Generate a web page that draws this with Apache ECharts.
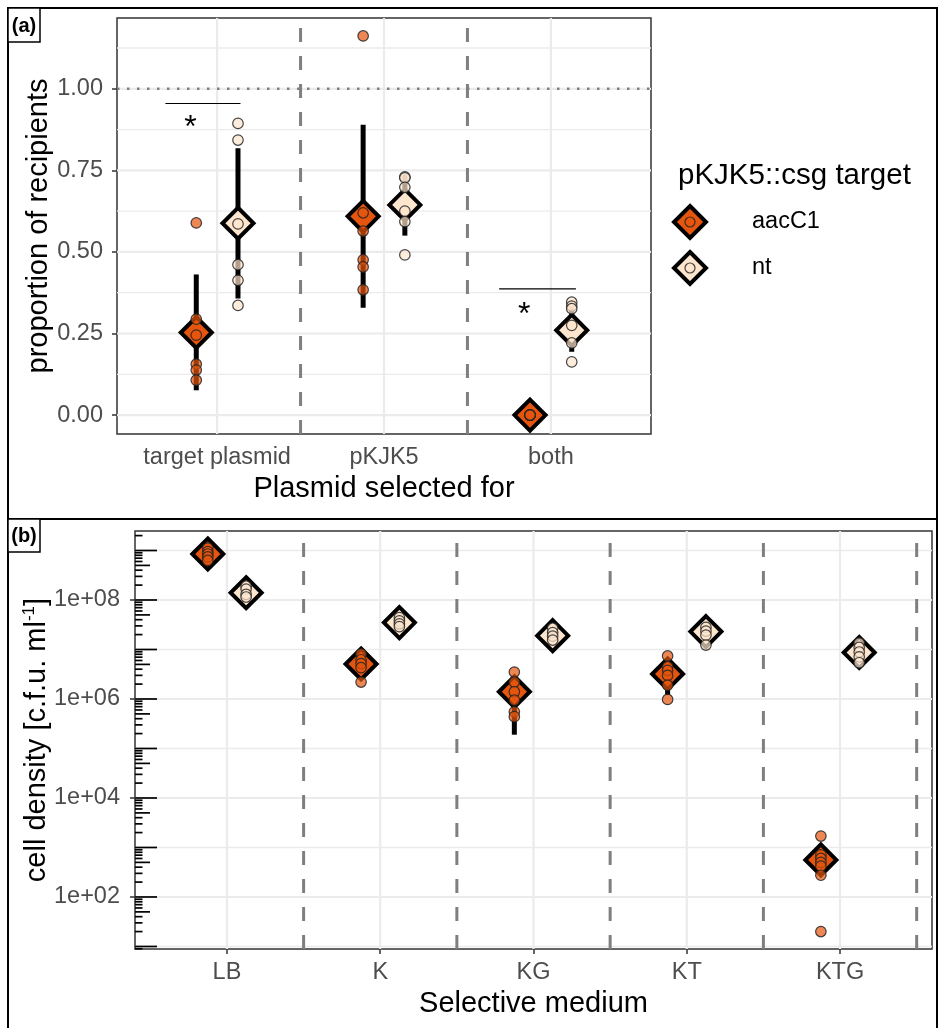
<!DOCTYPE html>
<html>
<head>
<meta charset="utf-8">
<script src="https://cdn.jsdelivr.net/npm/echarts@6/dist/echarts.min.js"></script>
<style>
  html, body { margin: 0; padding: 0; background: #fff; }
  #chart { width: 939px; height: 1028px; }
</style>
</head>
<body>
<div id="chart"></div>
<script>
// ---------- panel (a): proportion of recipients ----------
const catsA = ["target plasmid", "pKJK5", "both"];
const meanA_aac = [0.253, 0.609, 0.0];
const lowA_aac = [0.076, 0.329, 0.0];
const highA_aac = [0.431, 0.890, 0.0];
const meanA_nt = [0.588, 0.644, 0.260];
const lowA_nt = [0.357, 0.550, 0.194];
const highA_nt = [0.818, 0.737, 0.326];
const ptsA_aac = [
  [0.589, 0.294, 0.245, 0.156, 0.138, 0.107],
  [1.162, 0.620, 0.564, 0.476, 0.454, 0.384],
  [0, 0, 0, 0, 0, 0]
];
const ptsA_nt = [
  [0.894, 0.843, 0.586, 0.461, 0.413, 0.336],
  [0.730, 0.727, 0.698, 0.625, 0.593, 0.491],
  [0.346, 0.334, 0.326, 0.275, 0.221, 0.163]
];
const ticksA = [0, 0.25, 0.5, 0.75, 1.0];
const minorA = [0.125, 0.375, 0.625, 0.875, 1.125];
const refLineA = [1.0];
const sepA = [1.5, 2.5];
// significance brackets
const sigFromA = [0.69, 2.69];
const sigToA = [1.14, 3.15];
const sigYA = [0.955, 0.387];
const starXA = [0.84, 2.84];
const starYA = [0.897, 0.324];

// ---------- panel (b): cell density (c.f.u./ml) ----------
const catsB = ["LB", "K", "KG", "KT", "KTG"];
const meanB_aac = [8.5e8, 5.1e6, 1.4e6, 3.2e6, 560];
const lowB_aac = [7.2e8, 3.3e6, 1.9e5, 1.2e6, 360];
const highB_aac = [1.0e9, 7.5e6, 2.6e6, 5.2e6, 770];
const meanB_nt = [1.4e8, 3.5e7, 1.9e7, 2.3e7, 8.7e6];
const lowB_nt = [1.1e8, 2.8e7, 1.5e7, 1.6e7, 7.0e6];
const highB_nt = [1.8e8, 4.3e7, 2.4e7, 2.9e7, 1.05e7];
const ptsB_aac = [
  [1.12e9, 9.5e8, 8.5e8, 7.4e8, 6.3e8],
  [8.1e6, 6.2e6, 5.2e6, 4.3e6, 2.2e6],
  [3.5e6, 2.2e6, 1.4e6, 9.5e5, 5.5e5, 4.4e5],
  [7.4e6, 4.5e6, 3.8e6, 3.0e6, 1.9e6, 9.8e5],
  [1700, 710, 600, 500, 420, 275, 20]
];
const ptsB_nt = [
  [1.9e8, 1.66e8, 1.3e8, 1.15e8],
  [4.4e7, 3.8e7, 3.3e7, 2.9e7],
  [2.7e7, 2.2e7, 1.86e7, 1.55e7],
  [2.8e7, 2.35e7, 1.95e7, 1.23e7],
  [1.35e7, 1.1e7, 8.9e6, 7.1e6, 5.4e6]
];
const ticksB = [2, 4, 6, 8];       // labelled decades (log10)
const minorB = [1, 3, 5, 7, 9];
const sepB = [1.5, 2.5, 3.5, 4.5, 5.5];
const logDecades = [0, 1, 2, 3, 4, 5, 6, 7, 8, 9];
const logMult = [1, 2, 3, 4, 5, 6, 7, 8, 9];

// ---------- styling ----------
const FONT = "Liberation Sans, Arial, sans-serif";
const colAac = "#E6550D", colNt = "#FEE6CE";
const ptAac = "rgba(230,85,13,0.7)", ptNt = "rgba(254,230,206,0.7)";
const ptEdge = "rgba(35,35,35,0.85)";
const gridCol = "#EBEBEB";
const dodge = 0.125;
const lg = Math.log10;
const id = (v) => v;

function hLine(color, width, dash) {
  return function (params, api) {
    const cs = params.coordSys;
    const y = api.coord([1, api.value(1)])[1];
    return {
      type: "line", silent: true,
      shape: { x1: cs.x, y1: y, x2: cs.x + cs.width, y2: y },
      style: { stroke: color, lineWidth: width, lineDash: dash || null, lineCap: "butt" }
    };
  };
}
function vLine(color, width, dash) {
  return function (params, api) {
    const cs = params.coordSys;
    const x = api.coord([api.value(0), 1])[0];
    return {
      type: "line", silent: true,
      shape: { x1: x, y1: cs.y + cs.height, x2: x, y2: cs.y },
      style: { stroke: color, lineWidth: width, lineDash: dash || null, lineCap: "butt" }
    };
  };
}
function errBar(params, api) {
  const p1 = api.coord([api.value(0), api.value(1)]);
  const p2 = api.coord([api.value(0), api.value(2)]);
  return {
    type: "line",
    shape: { x1: p1[0], y1: p1[1], x2: p2[0], y2: p2[1] },
    style: { stroke: "#000", lineWidth: 5, lineCap: "butt" }
  };
}
function bracket(params, api) {
  const p1 = api.coord([api.value(0), api.value(2)]);
  const p2 = api.coord([api.value(1), api.value(2)]);
  return {
    type: "line",
    shape: { x1: p1[0], y1: p1[1], x2: p2[0], y2: p2[1] },
    style: { stroke: "#000", lineWidth: 1.2 }
  };
}
function star(params, api) {
  const p = api.coord([api.value(0), api.value(1)]);
  return {
    type: "text", x: p[0], y: p[1] + 6,
    style: { text: "*", fontSize: 32, fontFamily: FONT, fill: "#000", align: "center", verticalAlign: "middle" }
  };
}
function logTick(params, api) {
  const cs = params.coordSys;
  const y = api.coord([1, api.value(0)])[1];
  if (y < cs.y - 0.5 || y > cs.y + cs.height + 0.5) return null;
  const m = api.value(1);
  const len = m === 1 ? 22 : (m === 5 ? 15 : 7.5);
  return {
    type: "line", silent: true,
    shape: { x1: cs.x, y1: y, x2: cs.x + len, y2: y },
    style: { stroke: "#000", lineWidth: 1.7 }
  };
}

function pts(list, side, tf) {
  const out = [];
  list.forEach((arr, i) => arr.forEach((v) => out.push([i + 1 + side * dodge, tf(v)])));
  return out;
}
function means(arr, side, tf) {
  return arr.map((v, i) => [i + 1 + side * dodge, tf(v)]);
}
function bars(lo, hi, side, tf) {
  return lo.map((v, i) => [i + 1 + side * dodge, tf(v), tf(hi[i])]);
}
function lineData(vals) { return vals.map((v) => [v, v]); }

const logTickData = [];
logDecades.forEach((d) => logMult.forEach((m) => logTickData.push([d + lg(m), m])));

function panelSeries(ax, o) {
  const base = { xAxisIndex: ax, yAxisIndex: ax };
  return [
    Object.assign({ type: "custom", z: 1, renderItem: hLine(gridCol, 1.3), data: lineData(o.minor) }, base),
    Object.assign({ type: "custom", z: 1, renderItem: hLine(gridCol, 2.2), data: lineData(o.major) }, base),
    Object.assign({ type: "custom", z: 1, renderItem: vLine(gridCol, 2.2), data: lineData(o.cats.map((c, i) => i + 1)) }, base),
    Object.assign({ type: "custom", z: 2, renderItem: vLine("#7F7F7F", 3, [14, 14]), data: lineData(o.sep) }, base),
    Object.assign({ type: "custom", z: 3, renderItem: errBar, data: bars(o.loA, o.hiA, -1, o.tf), encode: { x: 0, y: [1, 2] } }, base),
    Object.assign({ type: "custom", z: 3, renderItem: errBar, data: bars(o.loN, o.hiN, 1, o.tf), encode: { x: 0, y: [1, 2] } }, base),
    Object.assign({
      type: "scatter", z: 4, symbol: "diamond", symbolSize: 31, data: means(o.mA, -1, o.tf),
      itemStyle: { color: colAac, borderColor: "#000", borderWidth: 4, opacity: 1 }
    }, base),
    Object.assign({
      type: "scatter", z: 4, symbol: "diamond", symbolSize: 31, data: means(o.mN, 1, o.tf),
      itemStyle: { color: colNt, borderColor: "#000", borderWidth: 4, opacity: 1 }
    }, base),
    Object.assign({
      type: "scatter", z: 5, symbol: "circle", symbolSize: 10.5, data: pts(o.pA, -1, o.tf),
      itemStyle: { color: ptAac, borderColor: ptEdge, borderWidth: 1.2, opacity: 1 }
    }, base),
    Object.assign({
      type: "scatter", z: 5, symbol: "circle", symbolSize: 10.5, data: pts(o.pN, 1, o.tf),
      itemStyle: { color: ptNt, borderColor: ptEdge, borderWidth: 1.2, opacity: 1 }
    }, base)
  ];
}

const series = []
  .concat(panelSeries(0, {
    cats: catsA, major: ticksA, minor: minorA, sep: sepA, tf: id,
    loA: lowA_aac, hiA: highA_aac, loN: lowA_nt, hiN: highA_nt,
    mA: meanA_aac, mN: meanA_nt, pA: ptsA_aac, pN: ptsA_nt
  }))
  .concat([
    { type: "custom", z: 2, xAxisIndex: 0, yAxisIndex: 0, renderItem: hLine("#7F7F7F", 2.5, [2.5, 7.5]), data: refLineA.map((v) => [1, v]) },
    { type: "custom", z: 3, xAxisIndex: 0, yAxisIndex: 0, renderItem: bracket, data: sigFromA.map((v, i) => [v, sigToA[i], sigYA[i]]) },
    { type: "custom", z: 3, xAxisIndex: 0, yAxisIndex: 0, renderItem: star, data: starXA.map((v, i) => [v, starYA[i]]) }
  ])
  .concat(panelSeries(1, {
    cats: catsB, major: ticksB, minor: minorB, sep: sepB, tf: lg,
    loA: lowB_aac, hiA: highB_aac, loN: lowB_nt, hiN: highB_nt,
    mA: meanB_aac, mN: meanB_nt, pA: ptsB_aac, pN: ptsB_nt
  }))
  .concat([
    { type: "custom", z: 2, xAxisIndex: 1, yAxisIndex: 1, renderItem: logTick, data: logTickData }
  ]);

const tickStyle = { length: 5, lineStyle: { color: "#333", width: 1.5 } };
const labelStyle = { color: "#4D4D4D", fontSize: 23.5, fontFamily: FONT };
const nameStyle = { color: "#000", fontSize: 29, fontFamily: FONT };

const option = {
  animation: false,
  backgroundColor: "#fff",
  textStyle: { fontFamily: FONT },
  grid: [
    { left: 117, top: 18, width: 534, height: 416, show: true, borderColor: "#333", borderWidth: 1.5, backgroundColor: "transparent" },
    { left: 135, top: 531, width: 797, height: 418, show: true, borderColor: "#333", borderWidth: 1.5, backgroundColor: "transparent" }
  ],
  xAxis: [
    {
      gridIndex: 0, type: "value", min: 0.4, max: 3.6,
      axisLine: { show: false }, splitLine: { show: false },
      axisTick: Object.assign({ customValues: [1, 2, 3] }, tickStyle),
      axisLabel: Object.assign({ customValues: [1, 2, 3], margin: 12, formatter: (v) => catsA[Math.round(v) - 1] }, labelStyle),
      name: "Plasmid selected for", nameLocation: "middle", nameGap: 40, nameMoveOverlap: false, nameTextStyle: nameStyle
    },
    {
      gridIndex: 1, type: "value", min: 0.4, max: 5.6,
      axisLine: { show: false }, splitLine: { show: false },
      axisTick: Object.assign({ customValues: [1, 2, 3, 4, 5] }, tickStyle),
      axisLabel: Object.assign({ customValues: [1, 2, 3, 4, 5], margin: 12, formatter: (v) => catsB[Math.round(v) - 1] }, labelStyle),
      name: "Selective medium", nameLocation: "middle", nameGap: 40, nameMoveOverlap: false, nameTextStyle: nameStyle
    }
  ],
  yAxis: [
    {
      gridIndex: 0, type: "value", min: -0.058, max: 1.217,
      axisLine: { show: false }, splitLine: { show: false },
      axisTick: Object.assign({ customValues: ticksA }, tickStyle),
      axisLabel: Object.assign({ customValues: ticksA, margin: 14, formatter: (v) => v.toFixed(2) }, labelStyle),
      name: "proportion of recipients", nameLocation: "middle", nameGap: 64, nameMoveOverlap: false, nameTextStyle: nameStyle
    },
    {
      gridIndex: 1, type: "value", min: 0.949, max: 9.394,
      axisLine: { show: false }, splitLine: { show: false },
      axisTick: Object.assign({ customValues: ticksB }, tickStyle),
      axisLabel: Object.assign({
        customValues: ticksB, margin: 15,
        formatter: (v) => "1e+" + String(Math.round(v)).padStart(2, "0")
      }, labelStyle),
      name: "cell density [c.f.u. ml{sup|-1}]", nameLocation: "middle", nameGap: 82, nameMoveOverlap: false,
      nameTextStyle: Object.assign({
        rich: { sup: { fontSize: 17, fontFamily: FONT, color: "#000", verticalAlign: "top", lineHeight: 32 } },
        lineHeight: 32
      }, nameStyle)
    }
  ],
  graphic: [
    // outer frames and panel tags
    { type: "rect", shape: { x: 8, y: 8, width: 929, height: 511 }, style: { fill: "none", stroke: "#000", lineWidth: 2 } },
    { type: "rect", shape: { x: 8, y: 519, width: 929, height: 520 }, style: { fill: "none", stroke: "#000", lineWidth: 2 } },
    { type: "rect", shape: { x: 8, y: 8, width: 32, height: 34 }, style: { fill: "#fff", stroke: "#000", lineWidth: 1.5 } },
    { type: "text", x: 24, y: 26, style: { text: "(a)", font: "bold 20px " + FONT, fill: "#000", align: "center", verticalAlign: "middle" } },
    { type: "rect", shape: { x: 8, y: 519, width: 32, height: 33 }, style: { fill: "#fff", stroke: "#000", lineWidth: 1.5 } },
    { type: "text", x: 24, y: 536, style: { text: "(b)", font: "bold 20px " + FONT, fill: "#000", align: "center", verticalAlign: "middle" } },
    // legend
    { type: "text", x: 678, y: 176, style: { text: "pKJK5::csg target", font: "29.5px " + FONT, fill: "#000", verticalAlign: "middle" } },
    { type: "polygon", shape: { points: [[690, 206], [706, 222], [690, 238], [674, 222]] }, style: { fill: colAac, stroke: "#000", lineWidth: 4 } },
    { type: "circle", shape: { cx: 690, cy: 222, r: 5 }, style: { fill: ptAac, stroke: ptEdge, lineWidth: 1.2 } },
    { type: "text", x: 752, y: 222, style: { text: "aacC1", font: "23.5px " + FONT, fill: "#000", verticalAlign: "middle" } },
    { type: "polygon", shape: { points: [[690, 252], [706, 268], [690, 284], [674, 268]] }, style: { fill: colNt, stroke: "#000", lineWidth: 4 } },
    { type: "circle", shape: { cx: 690, cy: 268, r: 5 }, style: { fill: ptNt, stroke: ptEdge, lineWidth: 1.2 } },
    { type: "text", x: 752, y: 268, style: { text: "nt", font: "23.5px " + FONT, fill: "#000", verticalAlign: "middle" } }
  ],
  series: series
};

const myChart = echarts.init(document.getElementById("chart"));
myChart.setOption(option);
</script>
</body>
</html>
